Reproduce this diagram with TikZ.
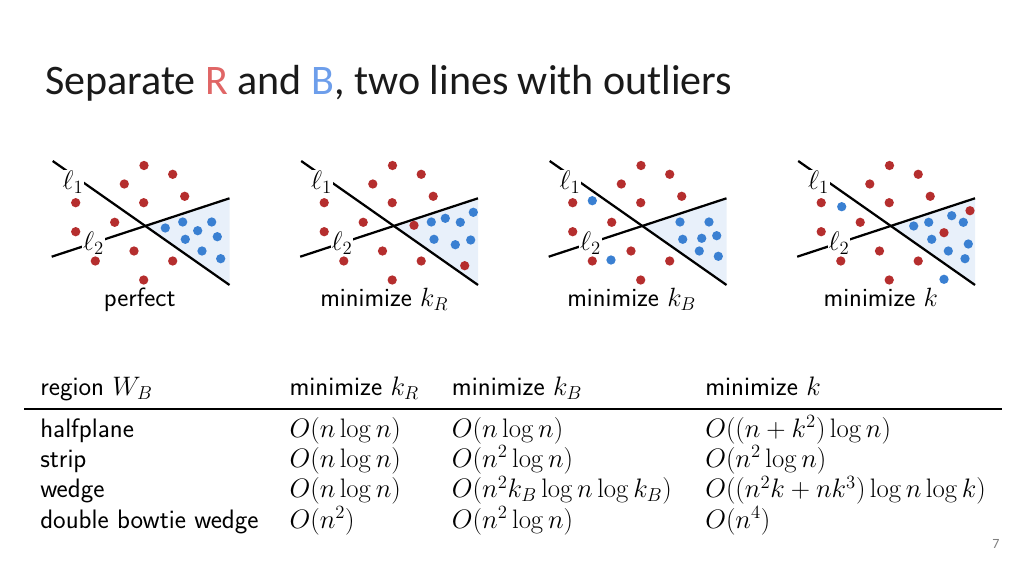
\RequirePackage{fix-cm}
\documentclass[tikz,border=0pt]{standalone}
\usepackage[no-math]{fontspec}
\setmainfont{Carlito}
\usepackage{tikz}
\usetikzlibrary{positioning}

\definecolor{dotred}{HTML}{B52E2E}
\definecolor{dotblue}{HTML}{3A80D2}
\definecolor{wedgeblue}{HTML}{E8F0FA}
\definecolor{titlered}{HTML}{E06666}
\definecolor{titleblue}{HTML}{6D9EEB}
\definecolor{titlegray}{HTML}{1A1A1A}

\begin{document}
\begin{tikzpicture}[x=0.025cm,y=-0.025cm,
    sepline/.style={line width=1.6pt},
    lbl/.style={fill=white,inner sep=0.5pt,font=\fontsize{19}{19}\selectfont},
    caption/.style={anchor=base,inner sep=0pt,font=\sffamily\fontsize{18.8}{22}\selectfont},
    cell/.style={anchor=base west,inner sep=0pt,font=\sffamily\fontsize{19}{22}\selectfont}]
   \useasboundingbox[fill=white] (0,0) rectangle (1024,576);

   % title
   \node[anchor=base west,inner sep=0pt,text=titlegray,font=\fontsize{29.9}{30}\selectfont] (title) at (45,95)
      {Separate \textcolor{titlered}{R} and \textcolor{titleblue}{B}, two lines with outliers};

   % the four panels: wedge, lines and the red points they share
   \foreach \i in {0,...,3} {
   \begin{scope}[shift={(248.5*\i,0)}]
      \coordinate (ltop\i) at (52.7,161);
      \coordinate (lbot\i) at (229.5,285);
      \coordinate (mlft\i) at (51.7,256.7);
      \coordinate (mrgt\i) at (229.5,198.3);
      \coordinate (apex\i) at (145.3,226);
      \fill[wedgeblue] (apex\i) -- (mrgt\i) -- (lbot\i) -- cycle;
      \draw[sepline] (ltop\i) -- (lbot\i);
      \draw[sepline] (mlft\i) -- (mrgt\i);
      \node[lbl] (lone\i) at (73,182) {$\ell_1$};
      \node[lbl] (ltwo\i) at (93.5,243) {$\ell_2$};
      \foreach \x/\y in {144/165.5,172.7/174.3,124.3/184,184.7/196.3,75.7/202.7,143.7/202.7,
                         114.7/222.3,75.7/231.7,134/251,95.3/261,172.7/261,143.7/280}
         \fill[dotred] (\x,\y) circle (3.3pt);
   \end{scope}
   }

   % perfect
   \foreach \x/\y in {165.3/228,182.7/222,211.7/222,197.7/230.7,185.3/239.3,217.3/236.7,202/251,220.7/258.7}
      \fill[dotblue] (\x,\y) circle (3.3pt);
   \node[caption] (cap0) at (139.7,306.5) {perfect};

   % minimize k_R
   \begin{scope}[shift={(248.5,0)}]
      \foreach \x/\y in {165.5/225.3,216.2/265.7}
         \fill[dotred] (\x,\y) circle (3.3pt);
      \foreach \x/\y in {182.8/222,196.8/218.3,211.8/222.3,224.8/212.3,185.5/239.3,206.8/244.7,222.2/240}
         \fill[dotblue] (\x,\y) circle (3.3pt);
   \end{scope}
   \node[caption] (cap1) at (384.3,306.5) {minimize $k_R$};

   % minimize k_B
   \begin{scope}[shift={(497,0)}]
      \foreach \x/\y in {95.3/200.7,114/260,183/222,212/222,185.7/239.3,204.7/238.3,219.7/235.7,202.3/251,221.3/256.3}
         \fill[dotblue] (\x,\y) circle (3.3pt);
   \end{scope}
   \node[caption] (cap2) at (631.7,306.5) {minimize $k_B$};

   % minimize k
   \begin{scope}[shift={(745.5,0)}]
      \foreach \x/\y in {224.5/210.7,198.5/232.7}
         \fill[dotred] (\x,\y) circle (3.3pt);
      \foreach \x/\y in {96.2/206.7,198.5/279.3,168.2/226,183.2/222.3,206.2/215.7,217.8/222.3,
                         186.2/239.3,222.8/244,202.8/251,219.5/258.7}
         \fill[dotblue] (\x,\y) circle (3.3pt);
   \end{scope}
   \node[caption] (cap3) at (880.8,306.5) {minimize $k$};

   % table
   \node[cell] (h0) at (40,395) {region $W_B$};
   \node[cell] (h1) at (289.3,395) {minimize $k_R$};
   \node[cell] (h2) at (451.7,395) {minimize $k_B$};
   \node[cell] (h3) at (705,395) {minimize $k$};
   \coordinate (ruleL) at (24,409);
   \coordinate (ruleR) at (1001.7,409);
   \draw[line width=1.2pt] (ruleL) -- (ruleR);

   \node[cell] (r1c0) at (40,437.3) {halfplane};
   \node[cell] (r1c1) at (289.3,437.3) {$O(n\log n)$};
   \node[cell] (r1c2) at (451.7,437.3) {$O(n\log n)$};
   \node[cell] (r1c3) at (705,437.3) {$O((n+k^2)\log n)$};

   \node[cell] (r2c0) at (40,467.6) {strip};
   \node[cell] (r2c1) at (289.3,467.6) {$O(n\log n)$};
   \node[cell] (r2c2) at (451.7,467.6) {$O(n^2\log n)$};
   \node[cell] (r2c3) at (705,467.6) {$O(n^2\log n)$};

   \node[cell] (r3c0) at (40,497.9) {wedge};
   \node[cell] (r3c1) at (289.3,497.9) {$O(n\log n)$};
   \node[cell] (r3c2) at (451.7,497.9) {$O(n^2k_B\log n\log k_B)$};
   \node[cell] (r3c3) at (705,497.9) {$O((n^2k+nk^3)\log n\log k)$};

   \node[cell] (r4c0) at (40,528.2) {double bowtie wedge};
   \node[cell] (r4c1) at (289.3,528.2) {$O(n^2)$};
   \node[cell] (r4c2) at (451.7,528.2) {$O(n^2\log n)$};
   \node[cell] (r4c3) at (705,528.2) {$O(n^4)$};

   \node[text=gray,inner sep=0pt,font=\fontsize{10}{10}\selectfont] (pagenum) at (996,544) {7};
\end{tikzpicture}
\end{document}
